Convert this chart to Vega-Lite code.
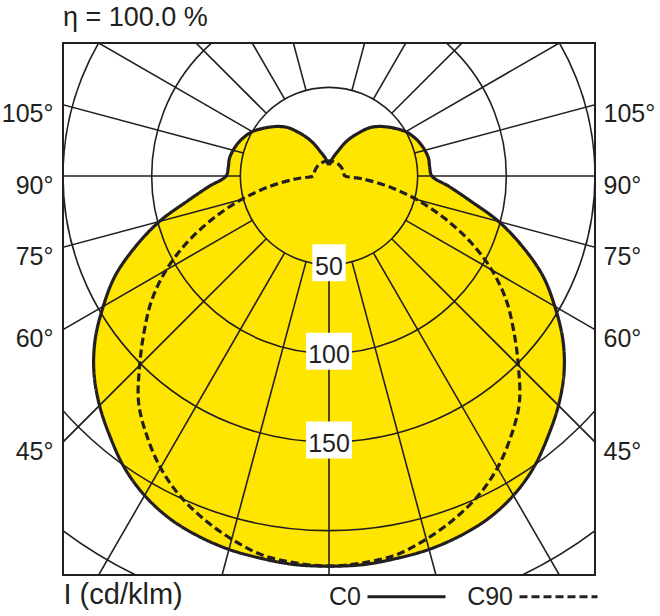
{
  "$schema": "https://vega.github.io/schema/vega-lite/v6.json",
  "width": 532,
  "height": 532,
  "autosize": {"type": "none"},
  "padding": {"left": 63, "top": 43, "right": 65, "bottom": 41},
  "background": "white",
  "config": {
    "font": "Liberation Sans, Arial, sans-serif",
    "view": {"stroke": "#231f20", "strokeWidth": 2}
  },
  "title": {"text": "η = 100.0 %", "anchor": "start", "frame": "group", "fontSize": 27, "fontWeight": "normal", "color": "#231f20", "offset": 14, "baseline": "alphabetic", "dy": 24},
  "datasets": {
    "curves": [
      {"a": -180, "C0": 6.5, "C90": 8.5},
      {"a": -175, "C0": 7, "C90": 8.5},
      {"a": -170, "C0": 9.5, "C90": 8.5},
      {"a": -165, "C0": 12, "C90": 8.5},
      {"a": -160, "C0": 15, "C90": 8.5},
      {"a": -155, "C0": 20, "C90": 8.5},
      {"a": -150, "C0": 25, "C90": 8.5},
      {"a": -145, "C0": 30, "C90": 8.5},
      {"a": -140, "C0": 35.5, "C90": 8.5},
      {"a": -135, "C0": 39.5, "C90": 8.5},
      {"a": -130, "C0": 43, "C90": 8.5},
      {"a": -125, "C0": 46.5, "C90": 8.5},
      {"a": -120, "C0": 50, "C90": 8.5},
      {"a": -115, "C0": 52.5, "C90": 8.5},
      {"a": -110, "C0": 54.5, "C90": 8.5},
      {"a": -105, "C0": 56, "C90": 8.5},
      {"a": -100, "C0": 57, "C90": 8.5},
      {"a": -95, "C0": 57, "C90": 8.5},
      {"a": -90, "C0": 58, "C90": 9},
      {"a": -85, "C0": 68, "C90": 19},
      {"a": -80, "C0": 81, "C90": 34},
      {"a": -75, "C0": 99, "C90": 51},
      {"a": -70, "C0": 116, "C90": 69},
      {"a": -65, "C0": 133, "C90": 88},
      {"a": -60, "C0": 147, "C90": 106},
      {"a": -55, "C0": 161, "C90": 122},
      {"a": -50, "C0": 173, "C90": 136},
      {"a": -45, "C0": 183, "C90": 151},
      {"a": -40, "C0": 192, "C90": 167},
      {"a": -35, "C0": 201, "C90": 179},
      {"a": -30, "C0": 208, "C90": 190},
      {"a": -25, "C0": 213, "C90": 199},
      {"a": -20, "C0": 216, "C90": 206},
      {"a": -15, "C0": 218, "C90": 212},
      {"a": -10, "C0": 219, "C90": 217},
      {"a": -5, "C0": 220, "C90": 219},
      {"a": 0, "C0": 220, "C90": 220},
      {"a": 5, "C0": 220, "C90": 219},
      {"a": 10, "C0": 219, "C90": 217},
      {"a": 15, "C0": 218, "C90": 212},
      {"a": 20, "C0": 216, "C90": 206},
      {"a": 25, "C0": 213, "C90": 199},
      {"a": 30, "C0": 208, "C90": 190},
      {"a": 35, "C0": 201, "C90": 179},
      {"a": 40, "C0": 192, "C90": 167},
      {"a": 45, "C0": 183, "C90": 151},
      {"a": 50, "C0": 173, "C90": 136},
      {"a": 55, "C0": 161, "C90": 122},
      {"a": 60, "C0": 147, "C90": 106},
      {"a": 65, "C0": 133, "C90": 88},
      {"a": 70, "C0": 116, "C90": 69},
      {"a": 75, "C0": 99, "C90": 51},
      {"a": 80, "C0": 81, "C90": 34},
      {"a": 85, "C0": 68, "C90": 19},
      {"a": 90, "C0": 58, "C90": 9},
      {"a": 95, "C0": 57, "C90": 8.5},
      {"a": 100, "C0": 57, "C90": 8.5},
      {"a": 105, "C0": 56, "C90": 8.5},
      {"a": 110, "C0": 54.5, "C90": 8.5},
      {"a": 115, "C0": 52.5, "C90": 8.5},
      {"a": 120, "C0": 50, "C90": 8.5},
      {"a": 125, "C0": 46.5, "C90": 8.5},
      {"a": 130, "C0": 43, "C90": 8.5},
      {"a": 135, "C0": 39.5, "C90": 8.5},
      {"a": 140, "C0": 35.5, "C90": 8.5},
      {"a": 145, "C0": 30, "C90": 8.5},
      {"a": 150, "C0": 25, "C90": 8.5},
      {"a": 155, "C0": 20, "C90": 8.5},
      {"a": 160, "C0": 15, "C90": 8.5},
      {"a": 165, "C0": 12, "C90": 8.5},
      {"a": 170, "C0": 9.5, "C90": 8.5},
      {"a": 175, "C0": 7, "C90": 8.5},
      {"a": 180, "C0": 6.5, "C90": 8.5}
    ],
    "rings": [{"I": 50}, {"I": 100}, {"I": 150}, {"I": 200}, {"I": 250}],
    "spokes": [
      {"a": -165}, {"a": -150}, {"a": -135}, {"a": -120}, {"a": -105}, {"a": -90},
      {"a": -75}, {"a": -60}, {"a": -45}, {"a": -30}, {"a": -15}, {"a": 0},
      {"a": 15}, {"a": 30}, {"a": 45}, {"a": 60}, {"a": 75}, {"a": 90},
      {"a": 105}, {"a": 120}, {"a": 135}, {"a": 150}, {"a": 165}
    ],
    "ticklabels": [{"I": 50}, {"I": 100}, {"I": 150}]
  },
  "resolve": {"axis": {"x": "independent", "y": "independent"}},
  "layer": [
    {
      "data": {"name": "curves"},
      "transform": [
        {"fold": ["C0", "C90"], "as": ["plane", "I"]},
        {"filter": "datum.plane == 'C0'"},
        {"calculate": "datum.I*sin(datum.a*PI/180)", "as": "x"},
        {"calculate": "-datum.I*cos(datum.a*PI/180)", "as": "y"}
      ],
      "mark": {"type": "line", "interpolate": "catmull-rom", "fill": "#ffe600", "stroke": "#ffe600", "strokeWidth": 0, "clip": true},
      "encoding": {
        "x": {"field": "x", "type": "quantitative", "scale": {"domain": [-150, 150], "nice": false, "zero": false},
          "axis": {"orient": "bottom", "labels": false, "ticks": false, "domain": false, "grid": false,
            "title": "I (cd/klm)", "titleAnchor": "start", "titleAlign": "left", "titlePadding": 5,
            "titleFontSize": 29, "titleFontWeight": "normal", "titleColor": "#231f20"}},
        "y": {"field": "y", "type": "quantitative", "scale": {"domain": [-225, 75], "nice": false, "zero": false},
          "axis": {"orient": "left", "values": [40.19, 0, -40.19, -86.6, -150],
            "labelExpr": "datum.value > 20 ? '105°' : datum.value > -20 ? '90°' : datum.value > -60 ? '75°' : datum.value > -120 ? '60°' : '45°'",
            "ticks": false, "domain": false, "grid": false, "title": null, "labelPadding": 10, "labelFontSize": 25,
            "labelColor": "#231f20", "labelBaseline": "alphabetic", "labelOffset": 17, "labelFlush": false,
            "labelOverlap": false, "labelBound": false}},
        "order": {"field": "a", "type": "quantitative"}
      }
    },
    {
      "data": {"name": "rings"},
      "mark": {"type": "point", "shape": "circle", "filled": false, "stroke": "#231f20", "strokeWidth": 1.6, "opacity": 1, "clip": true},
      "encoding": {
        "x": {"datum": 0, "type": "quantitative", "scale": {"domain": [-150, 150], "nice": false, "zero": false}, "axis": null},
        "y": {"datum": 0, "type": "quantitative", "scale": {"domain": [-225, 75], "nice": false, "zero": false}, "axis": null},
        "size": {"field": "I", "type": "quantitative", "scale": {"type": "pow", "exponent": 2, "domain": [0, 300], "range": [0, 1132096]}, "legend": null}
      }
    },
    {
      "data": {"name": "spokes"},
      "transform": [
        {"calculate": "50*sin(datum.a*PI/180)", "as": "x"},
        {"calculate": "-50*cos(datum.a*PI/180)", "as": "y"},
        {"calculate": "600*sin(datum.a*PI/180)", "as": "x2"},
        {"calculate": "-600*cos(datum.a*PI/180)", "as": "y2"}
      ],
      "mark": {"type": "rule", "stroke": "#231f20", "strokeWidth": 1.6, "clip": true},
      "encoding": {
        "x": {"field": "x", "type": "quantitative", "scale": {"domain": [-150, 150], "nice": false, "zero": false}, "axis": null},
        "y": {"field": "y", "type": "quantitative", "scale": {"domain": [-225, 75], "nice": false, "zero": false},
          "axis": {"orient": "right", "values": [40.19, 0, -40.19, -86.6, -150],
            "labelExpr": "datum.value > 20 ? '105°' : datum.value > -20 ? '90°' : datum.value > -60 ? '75°' : datum.value > -120 ? '60°' : '45°'",
            "ticks": false, "domain": false, "grid": false, "title": null, "labelPadding": 8, "labelFontSize": 25,
            "labelColor": "#231f20", "labelBaseline": "alphabetic", "labelOffset": 17, "labelFlush": false,
            "labelOverlap": false, "labelBound": false}},
        "x2": {"field": "x2"},
        "y2": {"field": "y2"}
      }
    },
    {
      "data": {"name": "curves"},
      "transform": [
        {"fold": ["C0", "C90"], "as": ["plane", "I"]},
        {"calculate": "datum.I*sin(datum.a*PI/180)", "as": "x"},
        {"calculate": "-datum.I*cos(datum.a*PI/180)", "as": "y"}
      ],
      "mark": {"type": "line", "interpolate": "catmull-rom", "stroke": "#231f20", "strokeWidth": 3.2, "clip": true},
      "encoding": {
        "x": {"field": "x", "type": "quantitative", "scale": {"domain": [-150, 150], "nice": false, "zero": false}, "axis": null},
        "y": {"field": "y", "type": "quantitative", "scale": {"domain": [-225, 75], "nice": false, "zero": false}, "axis": null},
        "order": {"field": "a", "type": "quantitative"},
        "strokeDash": {"field": "plane", "type": "nominal",
          "scale": {"domain": ["C0", "C90"], "range": [[1, 0], [8, 4]]},
          "legend": {"orient": "none", "legendX": 303, "legendY": 513, "direction": "horizontal", "title": null,
            "symbolType": "stroke", "symbolSize": 6084, "symbolStrokeWidth": 3, "symbolStrokeColor": "#231f20",
            "labelFontSize": 25, "labelColor": "#231f20", "labelAlign": "right", "labelOffset": -86,
            "labelBaseline": "middle", "columnPadding": 15, "padding": 0, "rowPadding": 0}}
      }
    },
    {
      "data": {"name": "ticklabels"},
      "transform": [{"calculate": "-datum.I", "as": "ny"}],
      "mark": {"type": "point", "filled": true, "fill": "white", "opacity": 1, "strokeWidth": 0, "size": 1369, "yOffset": -2},
      "encoding": {
        "x": {"datum": 0, "type": "quantitative", "scale": {"domain": [-150, 150], "nice": false, "zero": false}, "axis": null},
        "y": {"field": "ny", "type": "quantitative", "scale": {"domain": [-225, 75], "nice": false, "zero": false}, "axis": null},
        "shape": {"condition": {"test": "datum.I == 50", "value": "M-0.9,-1H0.9V1H-0.9Z"}, "value": "M-1.24,-1H1.24V1H-1.24Z"}
      }
    },
    {
      "data": {"name": "ticklabels"},
      "transform": [{"calculate": "-datum.I", "as": "ny"}],
      "mark": {"type": "text", "fontSize": 25, "color": "#231f20", "baseline": "middle", "align": "center", "dy": 2},
      "encoding": {
        "x": {"datum": 0, "type": "quantitative", "scale": {"domain": [-150, 150], "nice": false, "zero": false}, "axis": null},
        "y": {"field": "ny", "type": "quantitative", "scale": {"domain": [-225, 75], "nice": false, "zero": false}, "axis": null},
        "text": {"field": "I", "type": "quantitative"}
      }
    }
  ]
}
